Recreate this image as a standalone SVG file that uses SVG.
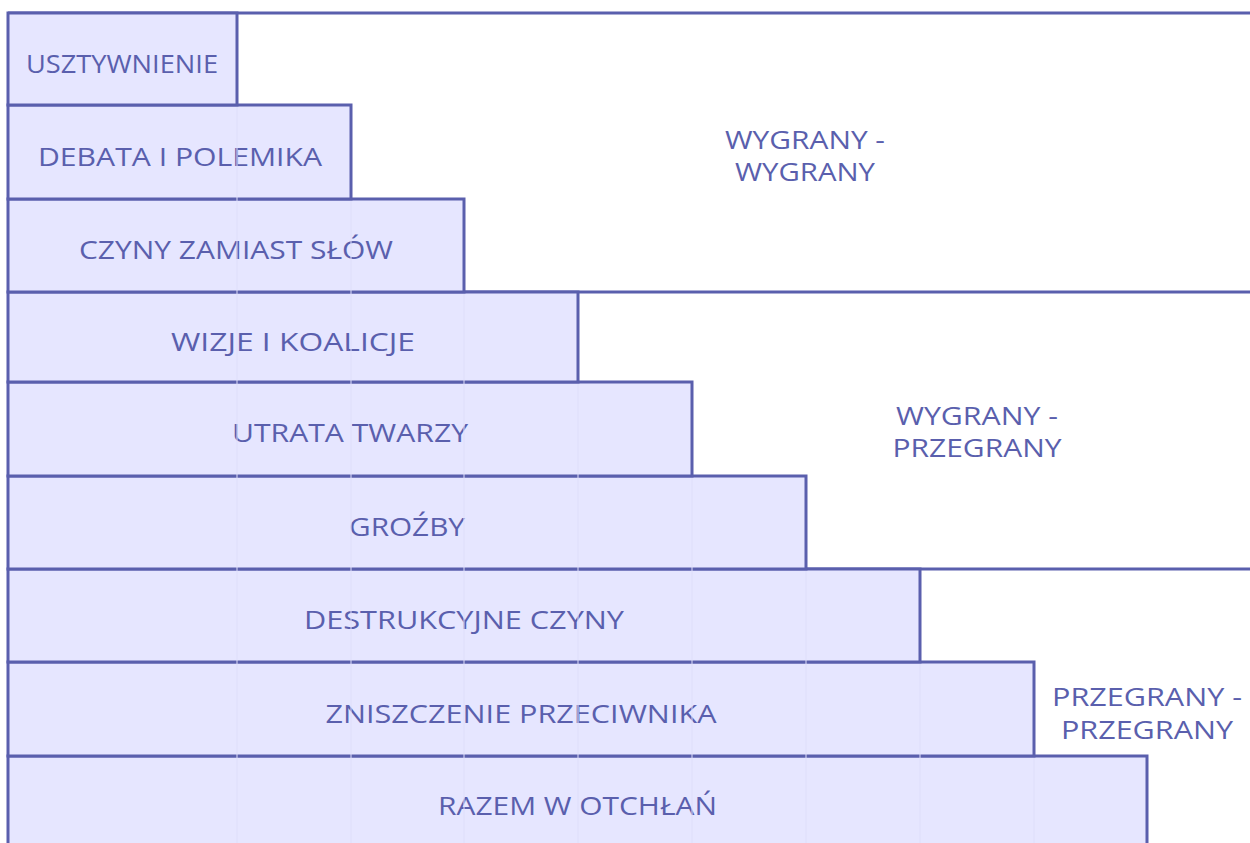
<svg xmlns="http://www.w3.org/2000/svg" width="1250" height="843" viewBox="0 0 1250 843">
<style>
.bar{fill:#e6e6ff;stroke:#5a5fad;stroke-width:3}
.seam{stroke:#dedefa;stroke-width:1}
.line{stroke:#5a5fad;stroke-width:3;fill:none}
text{font-family:"Open Sans","Noto Sans",sans-serif;font-size:25px;fill:#5a5fad;text-anchor:middle}
</style>
<rect width="1250" height="843" fill="#ffffff"/>
<g id="frame">
<line class="line" x1="8" y1="13" x2="1250" y2="13"/>
<line class="line" x1="8" y1="292" x2="1250" y2="292"/>
<line class="line" x1="8" y1="569" x2="1250" y2="569"/>
</g>
<g id="bar9"><rect class="bar" x="8" y="756" width="1139" height="100"/><text x="577.5" y="815" textLength="279" lengthAdjust="spacingAndGlyphs">RAZEM W OTCHŁAŃ</text></g>
<g id="bar8"><rect class="bar" x="8" y="662" width="1026" height="94"/><text x="521" y="723" textLength="391" lengthAdjust="spacingAndGlyphs">ZNISZCZENIE PRZECIWNIKA</text></g>
<g id="bar7"><rect class="bar" x="8" y="569" width="912" height="93"/><text x="464" y="629" textLength="320" lengthAdjust="spacingAndGlyphs">DESTRUKCYJNE CZYNY</text></g>
<g id="bar6"><rect class="bar" x="8" y="476" width="798" height="93"/><text x="407" y="536" textLength="116" lengthAdjust="spacingAndGlyphs">GROŹBY</text></g>
<g id="bar5"><rect class="bar" x="8" y="382" width="684" height="94"/><text x="350" y="442" textLength="236" lengthAdjust="spacingAndGlyphs">UTRATA TWARZY</text></g>
<g id="bar4"><rect class="bar" x="8" y="292" width="570" height="90"/><text x="293" y="351" textLength="244" lengthAdjust="spacingAndGlyphs">WIZJE I KOALICJE</text></g>
<g id="bar3"><rect class="bar" x="8" y="199" width="456" height="93"/><text x="236" y="259" textLength="314" lengthAdjust="spacingAndGlyphs">CZYNY ZAMIAST SŁÓW</text></g>
<g id="bar2"><rect class="bar" x="8" y="105" width="343" height="94"/><text x="180" y="166" textLength="284" lengthAdjust="spacingAndGlyphs">DEBATA I POLEMIKA</text></g>
<g id="bar1"><rect class="bar" x="8" y="13" width="229" height="92"/><text x="122" y="73" textLength="192" lengthAdjust="spacingAndGlyphs">USZTYWNIENIE</text></g>
<g id="seams">
<line class="seam" x1="237" y1="107" x2="237" y2="843"/>
<line class="seam" x1="351" y1="201" x2="351" y2="843"/>
<line class="seam" x1="464" y1="294" x2="464" y2="843"/>
<line class="seam" x1="578" y1="384" x2="578" y2="843"/>
<line class="seam" x1="692" y1="478" x2="692" y2="843"/>
<line class="seam" x1="806" y1="571" x2="806" y2="843"/>
<line class="seam" x1="920" y1="664" x2="920" y2="843"/>
<line class="seam" x1="1034" y1="758" x2="1034" y2="843"/>
</g>
<g id="zone-ww"><text x="805" y="149" textLength="160" lengthAdjust="spacingAndGlyphs">WYGRANY -</text><text x="805" y="181" textLength="140" lengthAdjust="spacingAndGlyphs">WYGRANY</text></g>
<g id="zone-wp"><text x="977" y="425" textLength="162" lengthAdjust="spacingAndGlyphs">WYGRANY -</text><text x="977" y="457" textLength="169" lengthAdjust="spacingAndGlyphs">PRZEGRANY</text></g>
<g id="zone-pp"><text x="1147" y="706" textLength="190" lengthAdjust="spacingAndGlyphs">PRZEGRANY -</text><text x="1147" y="739" textLength="172" lengthAdjust="spacingAndGlyphs">PRZEGRANY</text></g>
</svg>
